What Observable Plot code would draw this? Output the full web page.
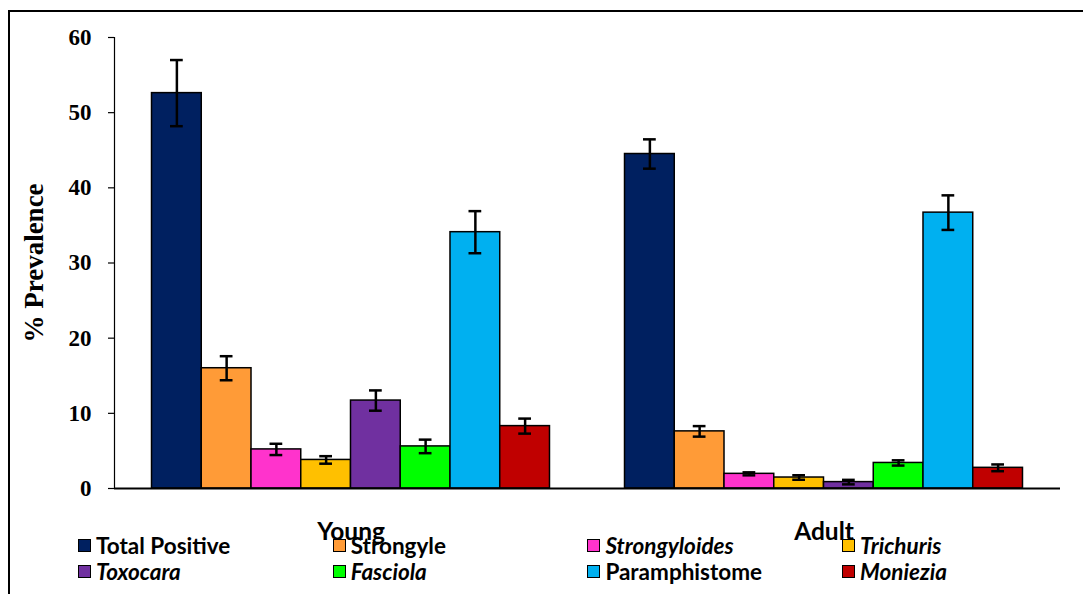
<!DOCTYPE html>
<html>
<head>
<meta charset="utf-8">
<script src="https://cdn.jsdelivr.net/npm/d3@7"></script>
<script src="https://cdn.jsdelivr.net/npm/@observablehq/plot@0.6"></script>
<style>
  html, body { margin: 0; padding: 0; background: #fff; }
  #wrap { position: relative; width: 1083px; height: 594px; overflow: hidden; background: #fff; }
  #border { position: absolute; left: 8px; top: 10px; width: 2000px; height: 2000px;
            border-top: 2.5px solid #000; border-left: 2.5px solid #000; pointer-events: none; }
  #chart { position: absolute; left: 0; top: 0; }
  #legend { position: absolute; left: 78px; top: 537px; display: grid;
            grid-template-columns: repeat(4, 254.7px); grid-auto-rows: 26.5px;
            font-family: Lato, "Open Sans", sans-serif; font-weight: bold; font-size: 22.5px; color: #000; }
  .item { display: flex; align-items: center; height: 16px; white-space: nowrap; }
  .sw { width: 11px; height: 11px; border: 1.6px solid #000; margin-right: 5px; flex: none; }
  .it { font-style: italic; }
</style>
</head>
<body>
<div id="wrap">
  <div id="chart"></div>
  <div id="border"></div>
  <div id="legend"></div>
</div>
<script>
const groups = ["Young", "Adult"];
const parasites = ["Total Positive", "Strongyle", "Strongyloides", "Trichuris", "Toxocara", "Fasciola", "Paramphistome", "Moniezia"];
const youngValues = [52.6, 16.0, 5.2, 3.8, 11.7, 5.6, 34.1, 8.3];
const youngErrors = [4.4, 1.6, 0.75, 0.5, 1.35, 0.9, 2.8, 1.0];
const adultValues = [44.5, 7.6, 1.95, 1.46, 0.85, 3.4, 36.7, 2.75];
const adultErrors = [1.95, 0.7, 0.2, 0.3, 0.3, 0.35, 2.3, 0.45];
const colors = ["#002060", "#FF9B37", "#FF33CC", "#FFC000", "#7030A0", "#00FF00", "#00B0F0", "#C00000"];
const italicNames = ["Strongyloides", "Trichuris", "Toxocara", "Fasciola", "Moniezia"];
const yTicks = [0, 10, 20, 30, 40, 50, 60];
const legendOrder = parasites;

const data = [];
parasites.forEach((p, i) => {
  data.push({group: "Young", parasite: p, value: youngValues[i], err: youngErrors[i]});
});
parasites.forEach((p, i) => {
  data.push({group: "Adult", parasite: p, value: adultValues[i], err: adultErrors[i]});
});

const chart = Plot.plot({
  width: 1083,
  height: 594,
  marginLeft: 114,
  marginRight: 23,
  marginTop: 37,
  marginBottom: 106,
  style: {fontFamily: "'Liberation Serif', 'Times New Roman', serif", color: "#000", background: "transparent", overflow: "visible"},
  fx: {domain: groups, padding: 0, label: null, round: false},
  x: {domain: parasites, paddingInner: 0, paddingOuter: 0.754, axis: null, round: false},
  y: {domain: [0, 60], label: null},
  color: {domain: parasites, range: colors},
  marks: [
    Plot.barY(data, {fx: "group", x: "parasite", y: "value", fill: "parasite", stroke: "#000", strokeWidth: 1.5}),
    Plot.ruleX(data, {fx: "group", x: "parasite", y1: d => d.value - d.err, y2: d => d.value + d.err, stroke: "#000", strokeWidth: 2.5}),
    Plot.tickY(data, {fx: "group", x: "parasite", y: d => d.value - d.err, insetLeft: 18.5, insetRight: 18.5, stroke: "#000", strokeWidth: 2.5}),
    Plot.tickY(data, {fx: "group", x: "parasite", y: d => d.value + d.err, insetLeft: 18.5, insetRight: 18.5, stroke: "#000", strokeWidth: 2.5}),
    Plot.ruleY([0], {stroke: "#000", strokeWidth: 2}),
    Plot.frame({anchor: "left", facet: "super", stroke: "#000", strokeWidth: 1.2}),
    Plot.axisY({ticks: yTicks, tickSize: 6, tickPadding: 17, fontSize: 23, fontWeight: "bold", label: null, strokeWidth: 1.2}),
    Plot.text(["% Prevalence"], {frameAnchor: "left", textAnchor: "middle", rotate: -90, dx: -80, fontSize: 27, fontWeight: "bold", facet: "super", fill: "#000"}),
    Plot.axisFx({anchor: "bottom", tickSize: 0, tickPadding: 34, fontSize: 24.5, fontWeight: "bold", fontFamily: "Lato, 'Open Sans', sans-serif", label: null})
  ]
});
document.getElementById("chart").appendChild(chart);

const legend = d3.select("#legend");
legendOrder.forEach((p, i) => {
  const item = legend.append("div").attr("class", "item");
  item.append("div").attr("class", "sw").style("background", colors[i]);
  item.append("span").attr("class", italicNames.includes(p) ? "it" : null).text(p);
});
</script>
</body>
</html>
